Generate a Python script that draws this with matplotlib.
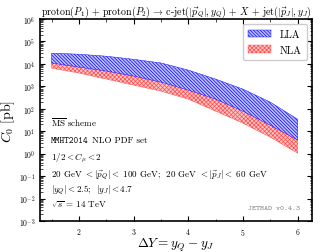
import numpy as np
import matplotlib
matplotlib.use("Agg")
import matplotlib.pyplot as plt

# ---------------------------------------
# Data: LLA / NLA uncertainty bands
# ---------------------------------------
dy = [1.5, 2.0, 2.5, 3.0, 3.5, 4.0, 4.5, 5.0, 5.5, 6.0]

lla_hi = [3.0e4, 2.7e4, 2.2e4, 1.6e4, 1.1e4, 5.3e3, 2.1e3, 750, 197, 34]
lla_lo = [1.09e4, 7.2e3, 4.8e3, 2.85e3, 1.54e3, 676, 268, 78, 18.5, 4.0]

nla_hi = [1.2e4, 7.9e3, 5.3e3, 3.1e3, 1.7e3, 740, 295, 86, 20, 4.4]
nla_lo = [6.5e3, 3.9e3, 2.1e3, 1.13e3, 610, 268, 78, 22.7, 5.4, 1.04]

plt.rcParams["mathtext.fontset"] = "cm"
plt.rcParams["font.family"] = "serif"
plt.rcParams["font.serif"] = ["cmr10"]
plt.rcParams["axes.formatter.use_mathtext"] = True
plt.rcParams["hatch.linewidth"] = 0.5

fig = plt.figure(figsize=(3.28, 2.53), dpi=100)
ax = fig.add_axes([0.122, 0.1225, 0.829, 0.7985])

ax.fill_between(dy, nla_lo, nla_hi, facecolor=(1.0, 0.78, 0.78),
                edgecolor=(1.0, 0.3, 0.3), hatch="xxxxxxxx", linewidth=0.3, label="NLA")
ax.fill_between(dy, lla_lo, lla_hi, facecolor=(0.75, 0.75, 1.0),
                edgecolor="blue", hatch="\\\\\\\\\\\\\\\\\\\\", linewidth=0.3, label="LLA")

ax.set_yscale("log")
ax.set_ylim(1e-3, 1e6)
ax.set_xlim(1.29, 6.26)
ax.set_yticks([10.0**k for k in range(-3, 7)])

ax.tick_params(which="both", direction="in", top=True, right=True, labelsize=5.5)
ax.tick_params(which="major", length=3.5, width=0.8)
ax.tick_params(which="minor", length=1.8, width=0.5)
ax.set_xticks(np.arange(1.5, 6.3, 0.5), minor=True)
for s in ax.spines.values():
    s.set_linewidth(1.2)

ax.set_xlabel(r"$\Delta Y = y_Q - y_J$", fontsize=9.5, labelpad=-1)
ax.set_ylabel(r"$C_0\ [\mathrm{pb}]$", fontsize=10, labelpad=1)
ax.set_title(r"$\mathrm{proton}(P_1)\,+\,\mathrm{proton}(P_2)\,\to\,\mathrm{c}$-$\mathrm{jet}(|\vec{p}_Q|,y_Q)\,+\,X\,+\,\mathrm{jet}(|\vec{p}_J|,y_J)$",
             fontsize=7.2, pad=3)

handles, labels = ax.get_legend_handles_labels()
ax.legend(handles[::-1], labels[::-1], loc="upper right", fontsize=7.5,
          handlelength=2.2, borderpad=0.5, labelspacing=0.6, handletextpad=0.8,
          fancybox=True, framealpha=1.0)

# annotation block
fs = 6.5
tx = 0.04
ax.text(tx, 0.47, r"$\overline{\mathrm{MS}}$ scheme", transform=ax.transAxes, fontsize=fs)
ax.text(tx, 0.39, "MMHT2014", transform=ax.transAxes, fontsize=fs, family="cmtt10")
ax.text(tx + 0.15, 0.39, "NLO PDF set", transform=ax.transAxes, fontsize=fs)
ax.text(tx, 0.305, r"$1/2 < C_{\mu} < 2$", transform=ax.transAxes, fontsize=fs)
ax.text(tx, 0.22, r"20 GeV $< |\vec{p}_Q| <$ 100 GeV;  20 GeV $< |\vec{p}_J| <$ 60 GeV",
        transform=ax.transAxes, fontsize=fs)
ax.text(tx, 0.145, r"$|y_Q| < 2.5$;  $|y_J| < 4.7$", transform=ax.transAxes, fontsize=fs)
ax.text(tx, 0.07, r"$\sqrt{s}$ = 14 TeV", transform=ax.transAxes, fontsize=fs)
ax.text(0.955, 0.06, "JETHAD v0.4.3", transform=ax.transAxes, fontsize=5.5,
        family="cmtt10", color="gray", ha="right")

fig.savefig("out.png", dpi=100)
